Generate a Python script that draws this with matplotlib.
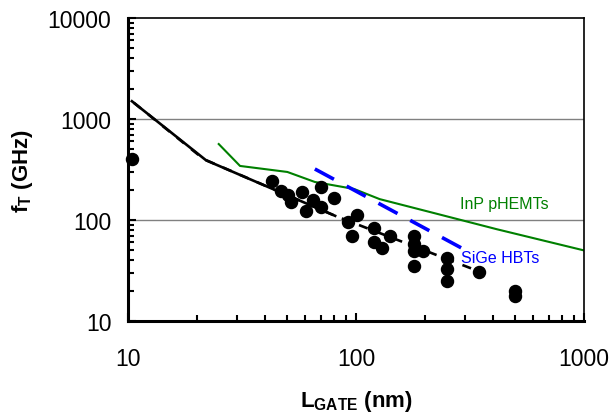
import matplotlib
matplotlib.use("Agg")
import matplotlib.pyplot as plt
from matplotlib.ticker import LogLocator, NullFormatter, FixedLocator, FuncFormatter

plt.rcParams["font.family"] = ["Liberation Sans", "DejaVu Sans"]
plt.rcParams["mathtext.fontset"] = "custom"
plt.rcParams["mathtext.rm"] = "Liberation Sans"
plt.rcParams["mathtext.bf"] = "Liberation Sans:bold"

# ---- data ----
pts_L = [10.4, 42.8, 46.9, 50.3, 51.9, 58.0, 60.4, 64.8, 70.2, 70.2, 80.1, 92.2, 101, 96.0,
         120, 120, 130, 141, 179.5, 179.5, 179.5, 197, 179.5, 250, 250, 250, 346, 498, 498]
pts_f = [400, 243, 194, 177, 151, 189, 123, 158, 212, 134, 165, 95.5, 112, 69.5,
         83.4, 60.5, 52.8, 69.5, 69.5, 57.8, 49.3, 49.3, 35.1, 42.1, 32.7, 24.9, 30.5, 19.8, 17.7]

solid_L = [10.4, 22, 81]
solid_f = [1500, 390, 110]
dash_L = [10.6, 21.5, 81, 346]
dash_f = [1450, 400, 110, 31]

inp_L = [25, 31, 50, 66, 98, 127, 211, 415, 1000]
inp_f = [565, 343, 299, 238, 203, 161, 120, 81, 50]
sige_L = [66, 294]
sige_f = [320, 52]

fig = plt.figure(figsize=(6.11, 4.14), dpi=100)
ax = fig.add_axes([0.2095, 0.2222, 0.7463, 0.7319])

ax.axhline(100, color="#808080", lw=1.0, zorder=1)
ax.axhline(1000, color="#808080", lw=1.0, zorder=1)

ax.plot(inp_L, inp_f, color="#008000", lw=1.5, zorder=2)
ax.plot(sige_L, sige_f, color="#0000FF", lw=2.6, dashes=(6, 4), zorder=2)
ax.plot(solid_L, solid_f, color="black", lw=1.9, zorder=3)
ax.plot(dash_L, dash_f, color="black", lw=1.9, dashes=(3.5, 3.5), zorder=3)
ax.scatter(pts_L, pts_f, s=75, color="black", zorder=4, clip_on=False)

ax.text(286, 147, "InP pHEMTs", color="#008000", fontsize=11.5, va="center", ha="left")
ax.text(289, 43, "SiGe HBTs", color="#0000FF", fontsize=11.5, va="center", ha="left")

ax.set_xscale("log")
ax.set_yscale("log")
ax.set_xlim(10, 1000)
ax.set_ylim(10, 10000)
ax.xaxis.set_major_locator(FixedLocator([10, 100, 1000]))
ax.yaxis.set_major_locator(FixedLocator([10, 100, 1000, 10000]))
ax.xaxis.set_major_formatter(FuncFormatter(lambda v, p: "%d" % v))
ax.yaxis.set_major_formatter(FuncFormatter(lambda v, p: "%d" % v))
ax.xaxis.set_minor_locator(LogLocator(base=10, subs=range(2, 10)))
ax.yaxis.set_minor_locator(LogLocator(base=10, subs=range(2, 10)))
ax.xaxis.set_minor_formatter(NullFormatter())
ax.yaxis.set_minor_formatter(NullFormatter())

ax.tick_params(which="both", direction="in", top=False, right=False, width=1.5, labelsize=16.5)
ax.tick_params(which="major", length=6)
ax.tick_params(which="minor", length=4)
ax.tick_params(axis="x", which="major", pad=19)
ax.tick_params(axis="y", which="major", pad=12)

for s in ["left", "bottom"]:
    ax.spines[s].set_linewidth(2.2)
for s in ["top", "right"]:
    ax.spines[s].set_linewidth(1.2)

ax.set_xlabel(r"$\mathbf{L_{GATE}}$ (nm)", fontsize=16, fontweight="bold", labelpad=13)
ax.set_ylabel(r"$\mathbf{f_T}$ (GHz)", fontsize=16, fontweight="bold", labelpad=9)

fig.savefig("out.png", dpi=100)
